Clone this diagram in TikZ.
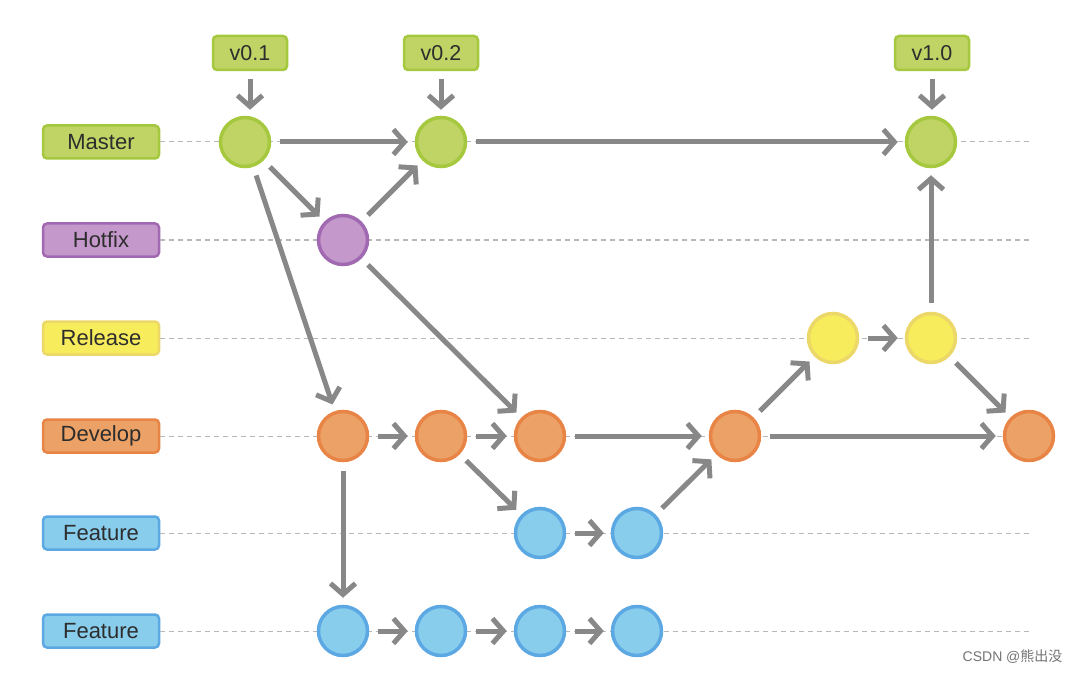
\documentclass[tikz,border=0pt]{standalone}
\usepackage{fontspec}
\setmainfont{Liberation Sans}
\newfontfamily\cjk{Noto Sans CJK SC}
\usetikzlibrary{arrows.meta}
\definecolor{gfill}{RGB}{192,212,102}
\definecolor{gline}{RGB}{165,200,62}
\definecolor{pfill}{RGB}{196,152,202}
\definecolor{pline}{RGB}{160,105,178}
\definecolor{yfill}{RGB}{247,236,92}
\definecolor{yline}{RGB}{236,216,104}
\definecolor{ofill}{RGB}{236,162,102}
\definecolor{oline}{RGB}{232,132,70}
\definecolor{bfill}{RGB}{136,205,236}
\definecolor{bline}{RGB}{92,168,226}
\definecolor{arr}{RGB}{136,136,136}
\definecolor{txt}{RGB}{45,45,45}
\tikzset{
  commit/.style={circle, minimum size=49pt, inner sep=0pt, line width=3.5pt},
  gc/.style={commit, fill=gfill, draw=gline},
  pc/.style={commit, fill=pfill, draw=pline},
  yc/.style={commit, fill=yfill, draw=yline},
  oc/.style={commit, fill=ofill, draw=oline},
  bc/.style={commit, fill=bfill, draw=bline},
  lab/.style={rounded corners=4pt, line width=2.5pt, minimum width=116pt, minimum height=33pt, inner sep=0pt, text=txt, font=\fontsize{22}{24}\selectfont},
  tag/.style={rounded corners=4pt, line width=2.5pt, minimum width=74pt, minimum height=34pt, inner sep=0pt, text=txt, fill=gfill, draw=gline, font=\fontsize{21.5}{23}\selectfont},
  lane/.style={draw=black!28, dash pattern=on 5pt off 4pt, line width=1pt},
  flow/.style={draw=arr, line width=5pt, -{Straight Barb[length=11pt,width=25pt,line width=5pt]}, shorten <=9pt, shorten >=7pt},
}
\begin{document}
\begin{tikzpicture}[x=1pt,y=-1pt]
\useasboundingbox (0,0) rectangle (1080,674);
% lane labels
\node[lab, fill=gfill, draw=gline] (lm) at (101,142) {Master};
\node[lab, fill=pfill, draw=pline] (lh) at (101,240) {Hotfix};
\node[lab, fill=yfill, draw=yline] (lr) at (101,338) {Release};
\node[lab, fill=ofill, draw=oline] (ld) at (101,436) {Develop};
\node[lab, fill=bfill, draw=bline] (lf) at (101,533) {Feature};
\node[lab, fill=bfill, draw=bline] (lg) at (101,631) {Feature};
% lane ends
\coordinate (em) at (1030,142);
\coordinate (eh) at (1030,240);
\coordinate (er) at (1030,338);
\coordinate (ed) at (1030,436);
\coordinate (ef) at (1030,533);
\coordinate (eg) at (1030,631);
\draw[lane] (lm.east) -- (em);
\draw[lane] (lh.east) -- (eh);
\draw[lane] (lr.east) -- (er);
\draw[lane] (ld.east) -- (ed);
\draw[lane] (lf.east) -- (ef);
\draw[lane] (lg.east) -- (eg);
% commits
\node[gc] (m1) at (245,142) {};
\node[gc] (m2) at (441,142) {};
\node[gc] (m3) at (931,142) {};
\node[pc] (h1) at (343,240) {};
\node[yc] (r1) at (833,338) {};
\node[yc] (r2) at (931,338) {};
\node[oc] (d1) at (343,436) {};
\node[oc] (d2) at (441,436) {};
\node[oc] (d3) at (540,436) {};
\node[oc] (d4) at (735,436) {};
\node[oc] (d5) at (1029,436) {};
\node[bc] (f1) at (540,533) {};
\node[bc] (f2) at (637,533) {};
\node[bc] (g1) at (343,631) {};
\node[bc] (g2) at (441,631) {};
\node[bc] (g3) at (540,631) {};
\node[bc] (g4) at (637,631) {};
% tags
\node[tag] (t1) at (250,53) {v0.1};
\node[tag] (t2) at (441,53) {v0.2};
\node[tag] (t3) at (932,53) {v1.0};
\draw[flow, shorten <=8pt, shorten >=6pt] (t1.south) -- (t1.south |- m1.north);
\draw[flow, shorten <=8pt, shorten >=6pt] (t2.south) -- (t2.south |- m2.north);
\draw[flow, shorten <=8pt, shorten >=6pt] (t3.south) -- (t3.south |- m3.north);
% flows
\draw[flow] (m1) -- (m2);
\draw[flow] (m1) -- (h1);
\draw[flow] (m1) -- (d1);
\draw[flow] (h1) -- (m2);
\draw[flow] (h1) -- (d3);
\draw[flow] (m2) -- (m3);
\draw[flow] (d1) -- (d2);
\draw[flow] (d2) -- (d3);
\draw[flow] (d2) -- (f1);
\draw[flow] (d3) -- (d4);
\draw[flow] (f1) -- (f2);
\draw[flow] (f2) -- (d4);
\draw[flow] (d4) -- (r1);
\draw[flow] (r1) -- (r2);
\draw[flow] (r2) -- (m3);
\draw[flow] (r2) -- (d5);
\draw[flow] (d4) -- (d5);
\draw[flow] (d1) -- (g1);
\draw[flow] (g1) -- (g2);
\draw[flow] (g2) -- (g3);
\draw[flow] (g3) -- (g4);
% watermark
\node[text=black!55, font=\fontsize{14}{16}\selectfont, anchor=east] (wm) at (1066,657) {CSDN @{\cjk 熊出没}};
\end{tikzpicture}
\end{document}
